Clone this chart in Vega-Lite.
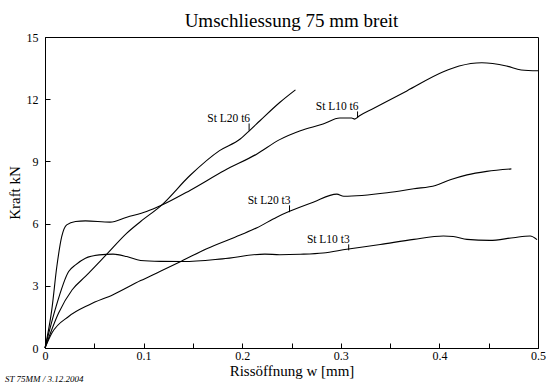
{
  "$schema": "https://vega.github.io/schema/vega-lite/v6.json",
  "width": 493,
  "height": 311,
  "autosize": "none",
  "padding": {"left": 45, "top": 37, "right": 8, "bottom": 37},
  "background": "white",
  "title": {"text": "Umschliessung 75 mm breit", "font": "Liberation Serif", "fontSize": 19, "fontWeight": "normal", "color": "black", "offset": 0, "anchor": "middle"},
  "config": {
    "view": {"stroke": "black", "strokeWidth": 1},
    "axis": {"grid": false, "domainColor": "black", "tickColor": "black", "labelColor": "black", "titleColor": "black", "labelFont": "Liberation Serif", "titleFont": "Liberation Serif", "labelFontSize": 12, "titleFontSize": 15, "titleFontWeight": "normal", "tickSize": -5, "domainWidth": 1, "tickWidth": 1}
  },
  "datasets": {
    "curves": [
      {"s": "L10t6", "w": 0, "F": 0}, {"s": "L10t6", "w": 0.0069, "F": 1.85}, {"s": "L10t6", "w": 0.012, "F": 3.93}, {"s": "L10t6", "w": 0.017, "F": 5.38}, {"s": "L10t6", "w": 0.022, "F": 5.94}, {"s": "L10t6", "w": 0.031, "F": 6.1}, {"s": "L10t6", "w": 0.041, "F": 6.13}, {"s": "L10t6", "w": 0.066, "F": 6.07}, {"s": "L10t6", "w": 0.083, "F": 6.31}, {"s": "L10t6", "w": 0.103, "F": 6.58}, {"s": "L10t6", "w": 0.118, "F": 6.88}, {"s": "L10t6", "w": 0.147, "F": 7.6}, {"s": "L10t6", "w": 0.182, "F": 8.56}, {"s": "L10t6", "w": 0.215, "F": 9.36}, {"s": "L10t6", "w": 0.238, "F": 10.05}, {"s": "L10t6", "w": 0.259, "F": 10.48}, {"s": "L10t6", "w": 0.282, "F": 10.8}, {"s": "L10t6", "w": 0.299, "F": 11.09}, {"s": "L10t6", "w": 0.311, "F": 11.09}, {"s": "L10t6", "w": 0.314, "F": 11.04}, {"s": "L10t6", "w": 0.319, "F": 11.2}, {"s": "L10t6", "w": 0.333, "F": 11.55}, {"s": "L10t6", "w": 0.367, "F": 12.4}, {"s": "L10t6", "w": 0.404, "F": 13.32}, {"s": "L10t6", "w": 0.42, "F": 13.6}, {"s": "L10t6", "w": 0.443, "F": 13.76}, {"s": "L10t6", "w": 0.468, "F": 13.6}, {"s": "L10t6", "w": 0.483, "F": 13.41}, {"s": "L10t6", "w": 0.5, "F": 13.37},
      {"s": "L20t6", "w": 0, "F": 0}, {"s": "L20t6", "w": 0.0138, "F": 1.69}, {"s": "L20t6", "w": 0.0276, "F": 2.81}, {"s": "L20t6", "w": 0.041, "F": 3.45}, {"s": "L20t6", "w": 0.062, "F": 4.49}, {"s": "L20t6", "w": 0.083, "F": 5.54}, {"s": "L20t6", "w": 0.097, "F": 6.1}, {"s": "L20t6", "w": 0.118, "F": 6.88}, {"s": "L20t6", "w": 0.147, "F": 8.32}, {"s": "L20t6", "w": 0.177, "F": 9.52}, {"s": "L20t6", "w": 0.198, "F": 10.08}, {"s": "L20t6", "w": 0.208, "F": 10.51}, {"s": "L20t6", "w": 0.218, "F": 10.96}, {"s": "L20t6", "w": 0.238, "F": 11.84}, {"s": "L20t6", "w": 0.254, "F": 12.45},
      {"s": "L10t3", "w": 0, "F": 0}, {"s": "L10t3", "w": 0.0103, "F": 1.85}, {"s": "L10t3", "w": 0.024, "F": 3.69}, {"s": "L10t3", "w": 0.031, "F": 4.01}, {"s": "L10t3", "w": 0.041, "F": 4.33}, {"s": "L10t3", "w": 0.055, "F": 4.49}, {"s": "L10t3", "w": 0.069, "F": 4.53}, {"s": "L10t3", "w": 0.083, "F": 4.41}, {"s": "L10t3", "w": 0.097, "F": 4.22}, {"s": "L10t3", "w": 0.117, "F": 4.18}, {"s": "L10t3", "w": 0.14, "F": 4.17}, {"s": "L10t3", "w": 0.18, "F": 4.3}, {"s": "L10t3", "w": 0.223, "F": 4.53}, {"s": "L10t3", "w": 0.238, "F": 4.5}, {"s": "L10t3", "w": 0.259, "F": 4.52}, {"s": "L10t3", "w": 0.282, "F": 4.58}, {"s": "L10t3", "w": 0.306, "F": 4.76}, {"s": "L10t3", "w": 0.34, "F": 4.99}, {"s": "L10t3", "w": 0.374, "F": 5.24}, {"s": "L10t3", "w": 0.404, "F": 5.4}, {"s": "L10t3", "w": 0.414, "F": 5.38}, {"s": "L10t3", "w": 0.428, "F": 5.24}, {"s": "L10t3", "w": 0.451, "F": 5.19}, {"s": "L10t3", "w": 0.475, "F": 5.32}, {"s": "L10t3", "w": 0.492, "F": 5.4}, {"s": "L10t3", "w": 0.499, "F": 5.23},
      {"s": "L20t3", "w": 0, "F": 0}, {"s": "L20t3", "w": 0.007, "F": 0.72}, {"s": "L20t3", "w": 0.024, "F": 1.52}, {"s": "L20t3", "w": 0.045, "F": 2.09}, {"s": "L20t3", "w": 0.069, "F": 2.57}, {"s": "L20t3", "w": 0.097, "F": 3.25}, {"s": "L20t3", "w": 0.117, "F": 3.7}, {"s": "L20t3", "w": 0.14, "F": 4.23}, {"s": "L20t3", "w": 0.164, "F": 4.79}, {"s": "L20t3", "w": 0.198, "F": 5.45}, {"s": "L20t3", "w": 0.215, "F": 5.8}, {"s": "L20t3", "w": 0.235, "F": 6.31}, {"s": "L20t3", "w": 0.248, "F": 6.59}, {"s": "L20t3", "w": 0.272, "F": 7.03}, {"s": "L20t3", "w": 0.296, "F": 7.42}, {"s": "L20t3", "w": 0.303, "F": 7.32}, {"s": "L20t3", "w": 0.347, "F": 7.49}, {"s": "L20t3", "w": 0.374, "F": 7.68}, {"s": "L20t3", "w": 0.396, "F": 7.84}, {"s": "L20t3", "w": 0.411, "F": 8.11}, {"s": "L20t3", "w": 0.428, "F": 8.35}, {"s": "L20t3", "w": 0.448, "F": 8.52}, {"s": "L20t3", "w": 0.473, "F": 8.64}
    ],
    "labels": [
      {"label": "St L20 t6", "w": 0.207, "top": 10.83, "bottom": 10.48},
      {"label": "St L10 t6", "w": 0.317, "top": 11.41, "bottom": 11.09},
      {"label": "St L20 t3", "w": 0.248, "top": 6.88, "bottom": 6.55},
      {"label": "St L10 t3", "w": 0.308, "top": 5.0, "bottom": 4.71}
    ],
    "note": [{"text": "ST 75MM / 3.12.2004"}]
  },
  "layer": [
    {
      "data": {"name": "curves"},
      "mark": {"type": "line", "color": "black", "strokeWidth": 1.1, "interpolate": "monotone"},
      "encoding": {
        "x": {"field": "w", "type": "quantitative", "scale": {"domain": [0, 0.5], "nice": false, "zero": false},
          "axis": {"title": "Rissöffnung w [mm]", "values": [0, 0.05, 0.1, 0.15, 0.2, 0.25, 0.3, 0.35, 0.4, 0.45, 0.5], "labelExpr": "round(datum.value*100) % 10 == 0 ? (datum.value == 0 ? '0' : format(datum.value, '.1f')) : ''", "labelPadding": 7, "titlePadding": 2, "labelFlush": false}},
        "y": {"field": "F", "type": "quantitative", "scale": {"domain": [0, 15], "nice": false},
          "axis": {"title": "Kraft kN", "values": [0, 1.5, 3, 4.5, 6, 7.5, 9, 10.5, 12, 13.5, 15], "labelExpr": "datum.value % 3 == 0 ? format(datum.value, 'd') : ''", "labelPadding": 12, "titlePadding": 4}},
        "detail": {"field": "s"}
      }
    },
    {
      "data": {"name": "labels"},
      "mark": {"type": "rule", "color": "black", "strokeWidth": 1},
      "encoding": {
        "x": {"field": "w", "type": "quantitative"},
        "y": {"field": "top", "type": "quantitative"},
        "y2": {"field": "bottom"}
      }
    },
    {
      "data": {"name": "labels"},
      "mark": {"type": "text", "align": "right", "baseline": "alphabetic", "font": "Liberation Serif", "fontSize": 11.5, "color": "black", "dx": 1, "dy": -1},
      "encoding": {
        "x": {"field": "w", "type": "quantitative"},
        "y": {"field": "top", "type": "quantitative"},
        "text": {"field": "label"}
      }
    },
    {
      "data": {"name": "note"},
      "mark": {"type": "text", "align": "left", "baseline": "alphabetic", "font": "Liberation Serif", "fontSize": 9, "fontStyle": "italic", "color": "black", "dx": -40, "clip": false},
      "encoding": {
        "x": {"datum": 0, "type": "quantitative"},
        "y": {"datum": -1.65, "type": "quantitative"},
        "text": {"field": "text"}
      }
    }
  ]
}
